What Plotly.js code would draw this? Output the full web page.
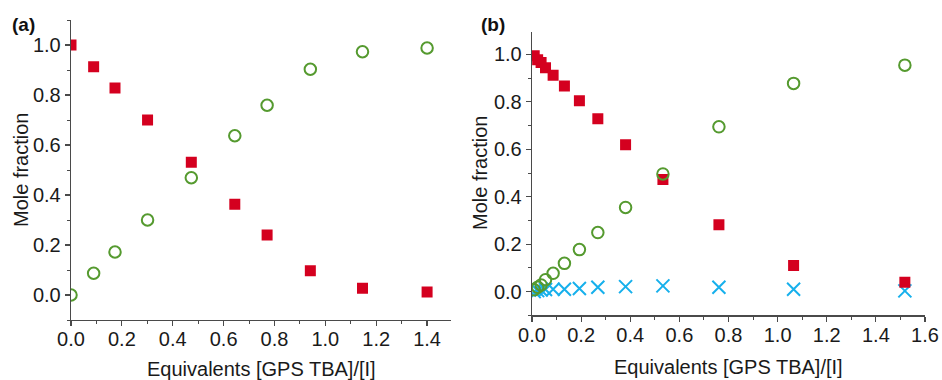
<!DOCTYPE html>
<html>
<head>
<meta charset="utf-8">
<script src="https://cdn.plot.ly/plotly-3.0.1.min.js"></script>
<style>html,body{margin:0;padding:0;background:#fff;}#chart{width:942px;height:380px;}</style>
</head>
<body>
<div id="chart"></div>
<script>
// Panel (a)
const xA = [0.0, 0.089, 0.173, 0.301, 0.473, 0.644, 0.771, 0.941, 1.146, 1.400];
const redA = [1.0, 0.913, 0.828, 0.700, 0.531, 0.363, 0.240, 0.097, 0.027, 0.012];
const greenA = [0.0, 0.087, 0.172, 0.300, 0.469, 0.637, 0.759, 0.903, 0.973, 0.988];

// Panel (b)
const xB = [0.009, 0.023, 0.037, 0.055, 0.086, 0.132, 0.193, 0.268, 0.381, 0.533, 0.761, 1.065, 1.518];
const redB = [0.995, 0.978, 0.966, 0.944, 0.912, 0.867, 0.805, 0.729, 0.619, 0.473, 0.282, 0.110, 0.039];
const greenB = [0.008, 0.018, 0.028, 0.050, 0.077, 0.119, 0.177, 0.249, 0.355, 0.496, 0.695, 0.878, 0.955];
const blueB = [0.0, 0.004, 0.007, 0.009, 0.010, 0.010, 0.013, 0.018, 0.021, 0.024, 0.018, 0.010, 0.003];

const xTitle = "Equivalents [GPS TBA]/[I]";
const yTitle = "Mole fraction";
const panelLabels = ["(a)", "(b)"];

const RED = "#D4001F", GREEN = "#559A2F", BLUE = "#17B0EC";
const FONT = "Liberation Sans, Arial, sans-serif";

const sq = {symbol: "square", size: 11, color: RED, line: {width: 0}};
const circ = {symbol: "circle-open", size: 11.5, color: GREEN, line: {width: 2, color: GREEN}};
const xm = {symbol: "x-thin-open", size: 13, color: BLUE, line: {width: 2, color: BLUE}};

const data = [
  {x: xA, y: redA, type: "scatter", mode: "markers", marker: sq, xaxis: "x", yaxis: "y", cliponaxis: true},
  {x: xA, y: greenA, type: "scatter", mode: "markers", marker: circ, xaxis: "x", yaxis: "y", cliponaxis: true},
  {x: xB, y: blueB, type: "scatter", mode: "markers", marker: xm, xaxis: "x2", yaxis: "y2", cliponaxis: true},
  {x: xB, y: redB, type: "scatter", mode: "markers", marker: sq, xaxis: "x2", yaxis: "y2", cliponaxis: true},
  {x: xB, y: greenB, type: "scatter", mode: "markers", marker: circ, xaxis: "x2", yaxis: "y2", cliponaxis: true}
];

function ax(extra) {
  return Object.assign({
    showgrid: false, zeroline: false, showline: true, linecolor: "#4a4a4a", linewidth: 1.3,
    ticks: "outside", ticklen: 5, tickwidth: 1.2, tickcolor: "#4a4a4a",
    tickfont: {family: FONT, size: 20, color: "#1a1a1a"},
    tickformat: ".1f", dtick: 0.2, tick0: 0,
    minor: {ticks: "outside", ticklen: 3, tickwidth: 1, tickcolor: "#4a4a4a", dtick: 0.1, showgrid: false},
    mirror: false, fixedrange: true
  }, extra);
}

const layout = {
  width: 942, height: 380,
  margin: {l: 0, r: 0, t: 0, b: 0},
  paper_bgcolor: "#fff", plot_bgcolor: "#fff",
  showlegend: false,
  xaxis: ax({domain: [71/942, 451/942], range: [0, 1.494], anchor: "y", ticklabelstandoff: -4}),
  yaxis: ax({domain: [1-320/380, 1-20/380], range: [-0.1, 1.1], anchor: "x"}),
  xaxis2: ax({domain: [532/942, 925/942], range: [0, 1.6], anchor: "y2", ticklabelstandoff: -4}),
  yaxis2: ax({domain: [1-315.3/380, 1-31.7/380], range: [-0.1, 1.096], anchor: "x2"}),
  annotations: [
    {text: "<b>" + panelLabels[0] + "</b>", x: 10/942, y: 1-25/380, xref: "paper", yref: "paper", xanchor: "left", yanchor: "middle", showarrow: false, font: {family: FONT, size: 19, color: "#111"}},
    {text: "<b>" + panelLabels[1] + "</b>", x: 479/942, y: 1-25/380, xref: "paper", yref: "paper", xanchor: "left", yanchor: "middle", showarrow: false, font: {family: FONT, size: 19, color: "#111"}},
    {text: yTitle, x: 21/942, y: 1-170/380, xref: "paper", yref: "paper", xanchor: "center", yanchor: "middle", textangle: -90, showarrow: false, font: {family: FONT, size: 20, color: "#1a1a1a"}},
    {text: yTitle, x: 480/942, y: 1-173/380, xref: "paper", yref: "paper", xanchor: "center", yanchor: "middle", textangle: -90, showarrow: false, font: {family: FONT, size: 20, color: "#1a1a1a"}},
    {text: xTitle, x: 261/942, y: 1-369/380, xref: "paper", yref: "paper", xanchor: "center", yanchor: "middle", showarrow: false, font: {family: FONT, size: 20, color: "#1a1a1a"}},
    {text: xTitle, x: 728/942, y: 1-367/380, xref: "paper", yref: "paper", xanchor: "center", yanchor: "middle", showarrow: false, font: {family: FONT, size: 20, color: "#1a1a1a"}}
  ]
};

Plotly.newPlot("chart", data, layout, {displayModeBar: false, staticPlot: true});
</script>
</body>
</html>
